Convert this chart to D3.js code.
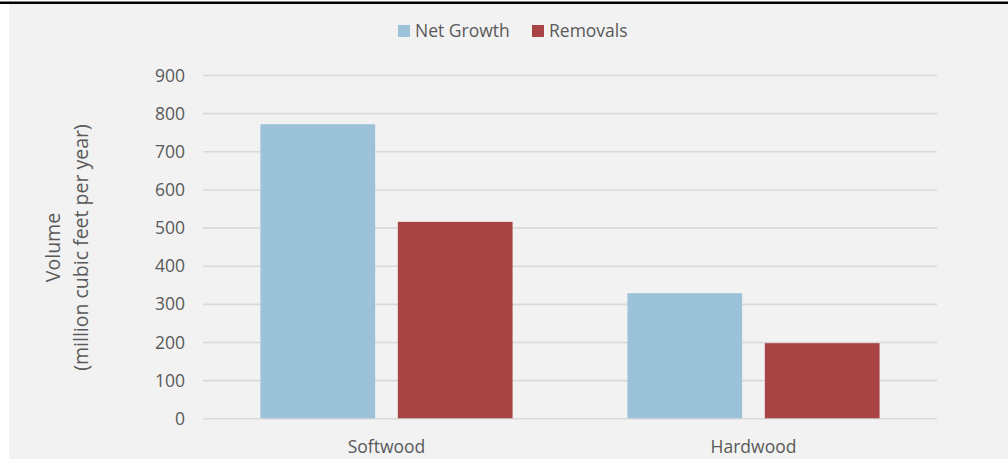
<!DOCTYPE html>
<html>
<head>
<meta charset="utf-8">
<script src="https://cdn.jsdelivr.net/npm/d3@7"></script>
<style>
  html, body { margin: 0; padding: 0; background: #ffffff; }
  svg { display: block; }
  text { font-family: "Open Sans", sans-serif; fill: #595959; }
</style>
</head>
<body>
<svg id="chart" width="1008" height="459"></svg>
<script>
// Annual net growth vs. removals, million cubic feet per year
const categories = ["Softwood", "Hardwood"];
const seriesNames = ["Net Growth", "Removals"];
const netGrowth = [771, 328];
const removals = [515, 197];
const yTicks = [0, 100, 200, 300, 400, 500, 600, 700, 800, 900];
const seriesColors = ["#9bc2d9", "#a94444"];

const seriesValues = [netGrowth, removals];
const rows = categories.map((c, i) => ({
  category: c,
  values: seriesNames.map((s, j) => ({ series: s, value: seriesValues[j][i], color: seriesColors[j] }))
}));

const svg = d3.select("#chart");
const W = 1008, H = 459;
const plot = { left: 203, right: 937, top: 75, bottom: 418.3 };

// frame: white page, black rule on top, grey panel
svg.append("rect").attr("x", 0).attr("y", 0).attr("width", W).attr("height", H).attr("fill", "#ffffff");
svg.append("rect").attr("x", 9).attr("y", 4).attr("width", W - 9).attr("height", H - 4).attr("fill", "#f2f2f2");
svg.append("rect").attr("x", 0).attr("y", 1.5).attr("width", W).attr("height", 2.5).attr("fill", "#000000");

const x0 = d3.scaleBand().domain(categories).range([plot.left, plot.right]).paddingInner(0).paddingOuter(0);
const x1 = d3.scaleBand().domain(seriesNames).range([0, x0.bandwidth()]).paddingInner(0.165).paddingOuter(0.418);
const y = d3.scaleLinear().domain([0, 900]).range([plot.bottom, plot.top]);

// gridlines and y tick labels
const yAxis = d3.axisLeft(y).tickValues(yTicks).tickSize(-(plot.right - plot.left)).tickPadding(18).tickFormat(d3.format("d"));
const gy = svg.append("g").attr("transform", `translate(${plot.left},0)`).call(yAxis);
gy.select(".domain").remove();
gy.selectAll(".tick line").attr("stroke", "#d9d9d9").attr("stroke-width", 1.6);
gy.selectAll(".tick text").attr("font-size", 17.5).attr("fill", "#595959").attr("font-family", "Open Sans, sans-serif").attr("dy", "0.35em");

// bars
const groups = svg.append("g").selectAll("g").data(rows).join("g")
  .attr("transform", d => `translate(${x0(d.category)},0)`);
groups.selectAll("rect").data(d => d.values).join("rect")
  .attr("x", d => x1(d.series))
  .attr("y", d => y(d.value))
  .attr("width", x1.bandwidth())
  .attr("height", d => y(0) - y(d.value))
  .attr("fill", d => d.color);

// category labels
const xAxis = d3.axisBottom(x0).tickSize(0).tickPadding(0);
const gx = svg.append("g").attr("transform", `translate(0,${plot.bottom})`).call(xAxis);
gx.select(".domain").remove();
gx.selectAll(".tick text").attr("font-size", 17.5).attr("fill", "#595959").attr("font-family", "Open Sans, sans-serif")
  .attr("y", 0).attr("dy", "1.98em");

// y axis title
const yTitle = svg.append("text").attr("transform", "translate(53,247.5) rotate(-90)")
  .attr("text-anchor", "middle").attr("font-size", 19.5);
yTitle.append("tspan").attr("x", 0).attr("dy", "0.35em").text("Volume");
yTitle.append("tspan").attr("x", 0).attr("dy", 28).text("(million cubic feet per year)");

// legend
const legendItems = [
  { name: seriesNames[0], color: seriesColors[0], x: 398 },
  { name: seriesNames[1], color: seriesColors[1], x: 532 }
];
const lg = svg.append("g").selectAll("g").data(legendItems).join("g")
  .attr("transform", d => `translate(${d.x},31)`);
lg.append("rect").attr("x", 0).attr("y", -6).attr("width", 12).attr("height", 12).attr("fill", d => d.color);
lg.append("text").attr("x", 17).attr("dy", "0.35em").attr("font-size", 17.5).text(d => d.name);
</script>
</body>
</html>
